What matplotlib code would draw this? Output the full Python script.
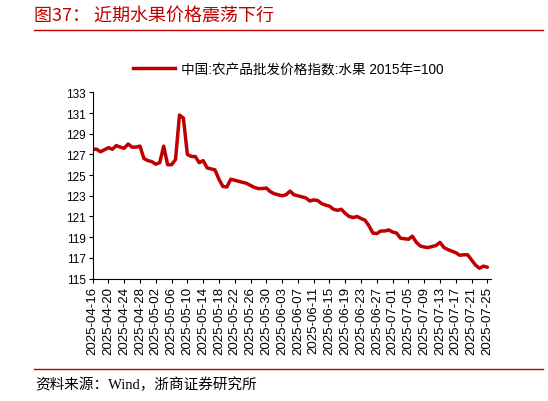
import numpy as np
import pandas as pd
import matplotlib
matplotlib.use("Agg")
import matplotlib.pyplot as plt
import matplotlib.dates as mdates
from matplotlib.lines import Line2D

plt.rcParams['font.family'] = ['Liberation Sans', 'Noto Sans CJK SC', 'DejaVu Sans']

# daily fruit wholesale price index, 2025-04-16 .. 2025-07-25
start_date = '2025-04-16'
fruit_index = [
    127.5, 127.5, 127.25, 127.45, 127.65, 127.5, 127.85, 127.7, 127.6, 128.0,
    127.7, 127.7, 127.8, 126.6, 126.4, 126.3, 126.05, 126.2, 127.8, 126.0,
    126.0, 126.5, 130.8, 130.5, 127.0, 126.8, 126.8, 126.2, 126.4, 125.7,
    125.6, 125.5, 124.6, 123.9, 123.85, 124.6, 124.5, 124.4, 124.3, 124.2,
    124.0, 123.8, 123.7, 123.7, 123.75, 123.4, 123.2, 123.1, 123.0, 123.1,
    123.45, 123.1, 123.0, 122.9, 122.8, 122.5, 122.6, 122.55, 122.25, 122.1,
    122.0, 121.7, 121.6, 121.7, 121.3, 121.0, 120.9, 121.0, 120.8, 120.65,
    120.1, 119.4, 119.35, 119.6, 119.6, 119.7, 119.5, 119.4, 118.9, 118.85,
    118.8, 119.1, 118.5, 118.15, 118.05, 118.0, 118.1, 118.2, 118.5, 118.0,
    117.8, 117.65, 117.5, 117.25, 117.3, 117.3, 116.8, 116.3, 116.0, 116.2,
    116.1,
]
series_label = '中国:农产品批发价格指数:水果 2015年=100'
title_text = '图37： 近期水果价格震荡下行'
source_text = '资料来源：Wind，浙商证券研究所'
y_ticks = [115, 117, 119, 121, 123, 125, 127, 129, 131, 133]

red = '#C00000'
dates = pd.date_range(start_date, periods=len(fruit_index), freq='D')

fig = plt.figure(figsize=(5.48, 4.02), dpi=100)
ax = fig.add_axes([0.169, 0.3045, 0.727, 0.4634])

ax.plot(dates, fruit_index, color=red, lw=2.5, solid_joinstyle='round',
        solid_capstyle='round')

ax.set_ylim(115, 133)
ax.set_yticks(y_ticks)
ax.set_xlim(dates[0], dates[-1] + pd.Timedelta(hours=22))
ax.set_xticks(dates[::4])
ax.xaxis.set_major_formatter(mdates.DateFormatter('%Y-%m-%d'))
ax.tick_params(axis='x', rotation=90, labelsize=9.5, length=3, width=0.8, pad=2)
ax.tick_params(axis='y', labelsize=8.5, length=3, width=0.8, pad=2)
for s in ['top', 'right']:
    ax.spines[s].set_visible(False)
for s in ['left', 'bottom']:
    ax.spines[s].set_linewidth(0.8)

handle = Line2D([], [], color=red, lw=2.5)
fig.legend([handle], [series_label], loc='center left',
           bbox_to_anchor=(0.243, 1 - 70 / 402), frameon=False,
           fontsize=9.8, handlelength=3.1, handletextpad=0.4,
           borderpad=0, borderaxespad=0)

fig.text(0.062, 0.96, title_text, color=red, fontsize=13, va='center',
         family=['Noto Sans CJK SC'], fontweight='light')
fig.add_artist(Line2D([0.062, 0.991], [1 - 31 / 402] * 2, color=red, lw=1.0,
                      transform=fig.transFigure))
fig.add_artist(Line2D([0.062, 0.991], [1 - 370 / 402] * 2, color=red, lw=1.0,
                      transform=fig.transFigure))
fig.text(0.064, 1 - 385 / 402, source_text, fontsize=10.5, va='center',
         family=['Liberation Serif', 'Noto Sans CJK SC'], fontweight='light')

fig.savefig('out.png', dpi=100)
